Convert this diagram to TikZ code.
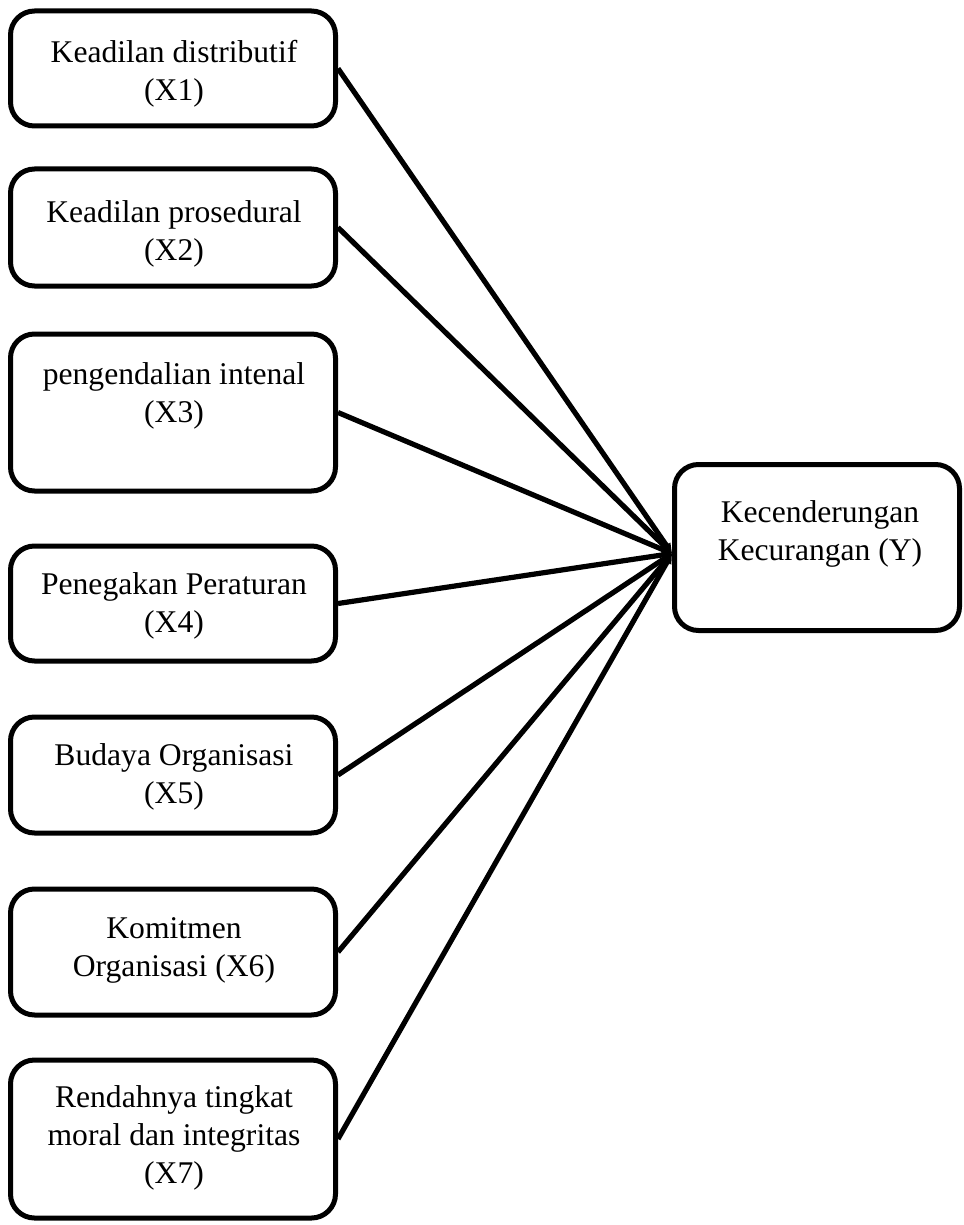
\documentclass[tikz,border=0pt]{standalone}
\usepackage{fontspec}
\setmainfont{Liberation Serif}
\usetikzlibrary{arrows.meta}
\begin{document}
\begin{tikzpicture}[x=0.5pt,y=-0.5pt,
  box/.style={draw, line width=2.5pt, rounded corners=12pt, minimum width=162.5pt, inner sep=0pt},
  lbl/.style={anchor=north, inner sep=0pt, align=center, font=\fontsize{15.8}{19}\selectfont},
  link/.style={line width=2.6pt, -{Triangle[length=5pt,width=4.5pt]}}]
\useasboundingbox (0,0) rectangle (963,1225);
% boxes
\node[box, minimum height=57.5pt] (b1) at (173,68.5) {};
\node[box, minimum height=58.5pt] (b2) at (173,227.5) {};
\node[box, minimum height=78.5pt] (b3) at (173,412.5) {};
\node[box, minimum height=57.5pt] (b4) at (173,603.5) {};
\node[box, minimum height=58pt] (b5) at (173,775) {};
\node[box, minimum height=63pt] (b6) at (173,952) {};
\node[box, minimum height=79pt] (b7) at (173,1139) {};
\node[box, minimum width=142.5pt, minimum height=83pt] (y) at (817,547.5) {};
% labels
\node[lbl] (t1) at (174,40) {Keadilan distributif\\(X1)};
\node[lbl] (t2) at (174,200) {Keadilan prosedural\\(X2)};
\node[lbl] (t3) at (174,362) {pengendalian intenal\\(X3)};
\node[lbl] (t4) at (174,572) {Penegakan Peraturan\\(X4)};
\node[lbl] (t5) at (174,743) {Budaya Organisasi\\(X5)};
\node[lbl] (t6) at (174,917) {Komitmen\\Organisasi (X6)};
\node[lbl] (t7) at (174,1085) {Rendahnya tingkat\\moral dan integritas\\(X7)};
\node[lbl] (ty) at (820,500) {Kecenderungan\\Kecurangan (Y)};
% connectors
\coordinate (tip) at ([yshift=-3pt]y.west);
\foreach \i in {1,...,7} {
  \draw[link] (b\i.east) -- (tip);
}
\end{tikzpicture}
\end{document}
